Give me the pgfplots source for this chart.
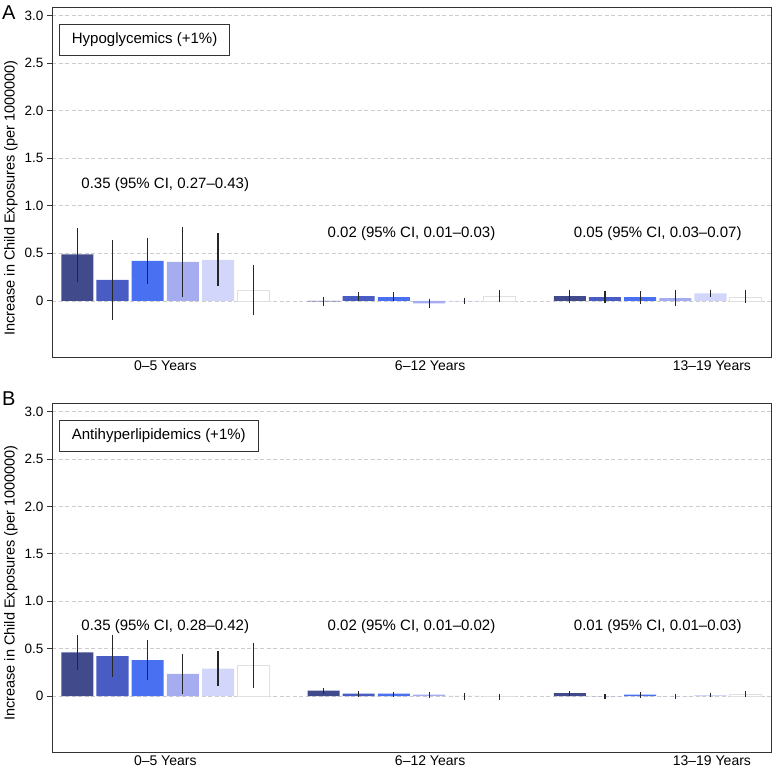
\documentclass[border=0pt]{standalone}
\usepackage{pgfplots}
\pgfplotsset{compat=1.18}
\usepackage{fontspec}
\setmainfont{Liberation Sans}

\definecolor{S1}{HTML}{414B8C}
\definecolor{S2}{HTML}{485CC4}
\definecolor{S3}{HTML}{4870F0}
\definecolor{S4}{HTML}{A5ACF0}
\definecolor{S5}{HTML}{D2D6FA}

\pgfplotsset{
  panel/.style={
    scale only axis,
    width=719pt,
    xmin=0.28, xmax=20.72,
    ymin=-0.59, ymax=3.09,
    xtick={3.5,11.03,19.04},
    xticklabels={0--5 Years, 6--12 Years, 13--19 Years},
    ytick={0,0.5,1,1.5,2,2.5,3},
    yticklabels={0,0.5,1.0,1.5,2.0,2.5,3.0},
    ytick pos=left,
    tick align=outside,
    major tick length=5pt,
    major x tick style={draw=none},
    major y tick style={black!80, line width=0.8pt},
    yticklabel style={font=\fontsize{13.5}{16}\selectfont},
    xticklabel style={font=\fontsize{14}{16}\selectfont, yshift=5pt},
    axis line style={black!80, line width=0.8pt},
    ymajorgrids,
    major grid style={draw=black!20, dash pattern=on 4pt off 2.5pt, line width=0.7pt},
  },
  sbar/.style={
    ybar, bar width=0.91, bar shift=0pt, draw=none, fill=#1,
    error bars/y dir=both, error bars/y explicit,
    error bars/error mark=none,
    error bars/error bar style={line width=1.1pt, black!85},
  },
}
\tikzset{
  tag/.style={draw=black!80, line width=0.8pt, anchor=north west,
    font=\fontsize{15}{18}\selectfont, inner xsep=12.5pt, minimum height=31pt},
  ci/.style={anchor=base, font=\fontsize{15}{18}\selectfont},
  ylab/.style={rotate=90, font=\fontsize{14.5}{17}\selectfont},
  letter/.style={anchor=north west, inner sep=0pt, font=\fontsize{20}{23}\selectfont},
}

\begin{document}
\begin{tikzpicture}
\useasboundingbox (0,0) rectangle (777pt,-767pt);

% ---- panel A ----
\begin{axis}[panel, height=350pt, at={(52pt,-7pt)}, anchor=north west]
  \addplot[sbar=S1] coordinates {
    (1,0.49) += (0,0.28) -= (0,0.29)
    (8,-0.005) += (0,0.045) -= (0,0.045)
    (15,0.05) += (0,0.065) -= (0,0.07)};
  \addplot[sbar=S2] coordinates {
    (2,0.22) += (0,0.42) -= (0,0.42)
    (9,0.05) += (0,0.047) -= (0,0.047)
    (16,0.04) += (0,0.06) -= (0,0.065)};
  \addplot[sbar=S3] coordinates {
    (3,0.42) += (0,0.24) -= (0,0.24)
    (10,0.04) += (0,0.055) -= (0,0.045)
    (17,0.04) += (0,0.06) -= (0,0.07)};
  \addplot[sbar=S4] coordinates {
    (4,0.41) += (0,0.37) -= (0,0.37)
    (11,-0.025) += (0,0.05) -= (0,0.045)
    (18,0.03) += (0,0.085) -= (0,0.085)};
  \addplot[sbar=S5] coordinates {
    (5,0.43) += (0,0.28) -= (0,0.27)
    (12,-0.005) += (0,0.04) -= (0,0.025)
    (19,0.08) += (0,0.035) -= (0,0.04)};
  \addplot[sbar=white, draw=black!12] coordinates {
    (6,0.11) += (0,0.27) -= (0,0.26)
    (13,0.045) += (0,0.065) -= (0,0.055)
    (20,0.04) += (0,0.07) -= (0,0.06)};
  \node[tag, xshift=7pt, yshift=-17pt] at (rel axis cs:0,1) {Hypoglycemics (+1\%)};
  \node[ci] at (axis cs:3.5,1.185) {0.35 (95\% CI, 0.27--0.43)};
  \node[ci] at (axis cs:10.5,0.67) {0.02 (95\% CI, 0.01--0.03)};
  \node[ci] at (axis cs:17.5,0.67) {0.05 (95\% CI, 0.03--0.07)};
\end{axis}

% ---- panel B ----
\begin{axis}[panel, height=349pt, at={(52pt,-403pt)}, anchor=north west]
  \addplot[sbar=S1] coordinates {
    (1,0.46) += (0,0.18) -= (0,0.19)
    (8,0.056) += (0,0.028) -= (0,0.036)
    (15,0.03) += (0,0.025) -= (0,0.025)};
  \addplot[sbar=S2] coordinates {
    (2,0.42) += (0,0.22) -= (0,0.22)
    (9,0.025) += (0,0.025) -= (0,0.035)
    (16,0.0) += (0,0.02) -= (0,0.03)};
  \addplot[sbar=S3] coordinates {
    (3,0.38) += (0,0.21) -= (0,0.21)
    (10,0.025) += (0,0.02) -= (0,0.035)
    (17,0.015) += (0,0.025) -= (0,0.035)};
  \addplot[sbar=S4] coordinates {
    (4,0.235) += (0,0.205) -= (0,0.21)
    (11,0.015) += (0,0.03) -= (0,0.04)
    (18,0.0) += (0,0.02) -= (0,0.03)};
  \addplot[sbar=S5] coordinates {
    (5,0.29) += (0,0.18) -= (0,0.185)
    (12,0.003) += (0,0.027) -= (0,0.048)
    (19,0.01) += (0,0.025) -= (0,0.025)};
  \addplot[sbar=white, draw=black!12] coordinates {
    (6,0.33) += (0,0.23) -= (0,0.24)
    (13,0.002) += (0,0.018) -= (0,0.047)
    (20,0.02) += (0,0.03) -= (0,0.03)};
  \node[tag, xshift=7pt, yshift=-17pt] at (rel axis cs:0,1) {Antihyperlipidemics (+1\%)};
  \node[ci] at (axis cs:3.5,0.687) {0.35 (95\% CI, 0.28--0.42)};
  \node[ci] at (axis cs:10.5,0.687) {0.02 (95\% CI, 0.01--0.02)};
  \node[ci] at (axis cs:17.5,0.687) {0.01 (95\% CI, 0.01--0.03)};
\end{axis}

% panel letters and y labels
\node[letter] at (2pt,-6pt) {A};
\node[letter] at (2pt,-392pt) {B};
\node[ylab] at (11pt,-198pt) {Increase in Child Exposures (per 1000000)};
\node[ylab] at (11pt,-583pt) {Increase in Child Exposures (per 1000000)};
\end{tikzpicture}
\end{document}
